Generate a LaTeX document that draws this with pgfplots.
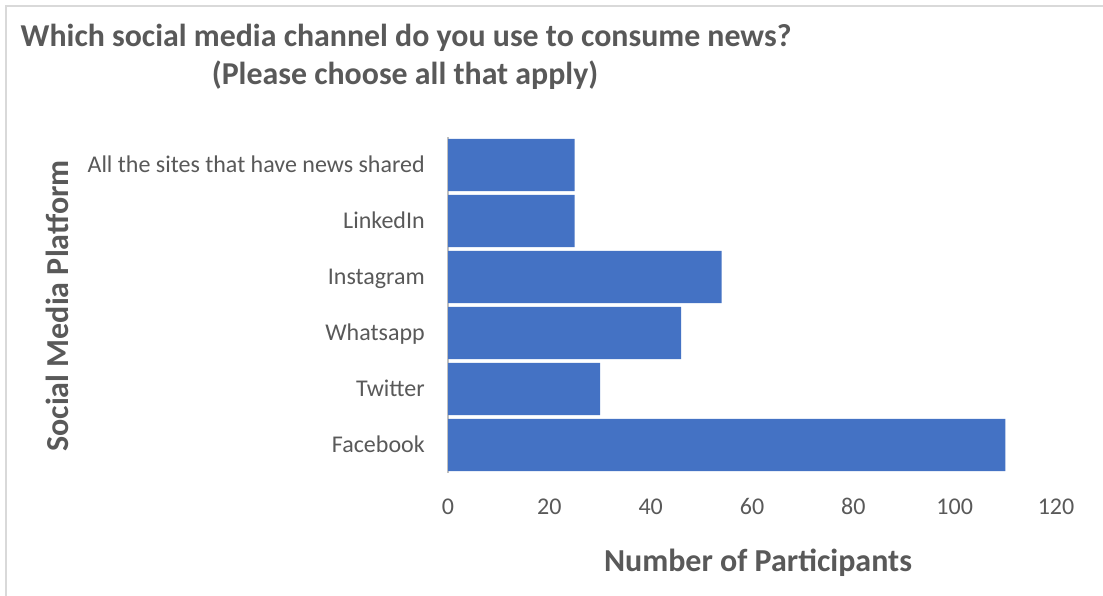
\documentclass[border=0pt]{standalone}
\usepackage{fontspec}
\setmainfont{Carlito}
\usepackage{pgfplots}
\pgfplotsset{compat=1.18}
\definecolor{barblue}{HTML}{4472C4}
\definecolor{txt}{HTML}{595959}
\definecolor{framec}{HTML}{D9D9D9}
\definecolor{axline}{HTML}{BFBFBF}
\begin{document}
\begin{tikzpicture}[x=0.75pt,y=0.75pt]
\useasboundingbox (0,0) rectangle (1103,596);
\fill[white] (0,0) rectangle (1103,596);
\draw[framec, line width=1.2pt] (6,-2) -- (6,590) -- (1105,590);
\begin{axis}[
  at={(336pt,92.25pt)}, anchor=south west,
  scale only axis, width=456pt, height=252pt,
  xmin=0, xmax=120, ymin=-0.5, ymax=5.5,
  xbar, bar width=0.93,
  xtick={0,20,...,120},
  ytick={0,...,5},
  yticklabels={Facebook,Twitter,Whatsapp,Instagram,LinkedIn,All the sites that have news shared},
  axis lines*=left,
  x axis line style={draw=none},
  y axis line style={draw=axline, line width=1.3pt, -},
  major tick length=0pt,
  tick style={draw=none},
  /pgf/number format/assume math mode=true,
  ticklabel style={font=\fontsize{18}{21}\selectfont, text=txt, inner sep=0pt},
  xticklabel style={anchor=base, yshift=-31pt},
  yticklabel style={anchor=base east, xshift=-17.25pt, yshift=-0.58em},
  clip=false,
]
\addplot[fill=barblue, draw=none] coordinates {(110,0) (30,1) (46,2) (54,3) (25,4) (25,5)};
\end{axis}
\node[anchor=base, text=txt, font=\bfseries\fontsize{23.9}{28}\selectfont, inner sep=0pt] at (406,549) {Which social media channel do you use to consume news?};
\node[anchor=base, text=txt, font=\bfseries\fontsize{23.9}{28}\selectfont, inner sep=0pt] at (405,511) {(Please choose all that apply)};
\node[anchor=base, text=txt, font=\bfseries\fontsize{24}{28}\selectfont, inner sep=0pt] at (758,24) {Number of Participants};
\node[anchor=base, rotate=90, text=txt, font=\bfseries\fontsize{24}{28}\selectfont, inner sep=0pt] at (68,290) {Social Media Platform};
\end{tikzpicture}
\end{document}
